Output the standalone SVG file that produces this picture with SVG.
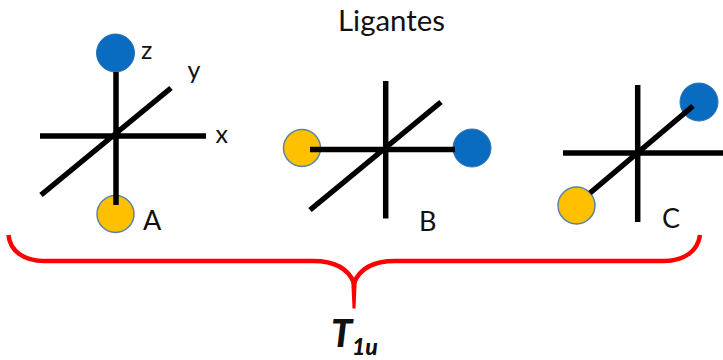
<svg xmlns="http://www.w3.org/2000/svg" width="723" height="360" viewBox="0 0 723 360">
<style>
.ax{stroke:#000;stroke-width:5.500;fill:none}
.b{fill:#0a6cc0;stroke:#2f70b0;stroke-width:1}
.y{fill:#ffc000;stroke:#5b82a8;stroke-width:1.500}
text{font-family:"Lato","Open Sans",sans-serif;fill:#111}
</style>
<rect width="723" height="360" fill="#fff"/>
<g id="title"><text x="338" y="31" font-size="28" textLength="107" lengthAdjust="spacingAndGlyphs">Ligantes</text></g>
<g id="node-a">
<circle class="b" cx="115.500" cy="53" r="19"/>
<circle class="y" cx="115.500" cy="214" r="18.500"/>
<path class="ax" d="M116 72V205M40 136H206M41 195L171 88"/>
<text x="141" y="59" font-size="25">z</text>
<text x="187.500" y="79" font-size="25">y</text>
<text x="215.500" y="143" font-size="25">x</text>
<text x="143" y="230" font-size="27">A</text>
</g>
<g id="node-b">
<circle class="y" cx="302" cy="148" r="18.500"/>
<circle class="b" cx="472" cy="148" r="19"/>
<path class="ax" d="M385.700 81V218.500M310 149.500H455M310 210L441 102"/>
<text x="419" y="231" font-size="27">B</text>
</g>
<g id="node-c">
<circle class="y" cx="576.500" cy="205.500" r="18.500"/>
<circle class="b" cx="699" cy="102" r="19"/>
<path class="ax" d="M637.700 85V222M563 153H723M590 193L693 106"/>
<text x="662" y="228" font-size="27">C</text>
</g>
<g id="connectors">
<path d="M8.500 235C10 251 24 261 44 261H313C333 261 348 268 354 283C360 268 375 261 395 261H664C684 261 698 251 700 235" fill="none" stroke="#f00" stroke-width="4.500"/>
<path d="M351 276L352.500 308.500H355.500L357 276L354 281Z" fill="#f00"/>
</g>
<g id="label">
<text x="331" y="347" font-size="38" font-weight="900" font-style="italic">T</text>
<text x="352" y="355" font-size="23" font-weight="900" font-style="italic">1u</text>
</g>
</svg>
